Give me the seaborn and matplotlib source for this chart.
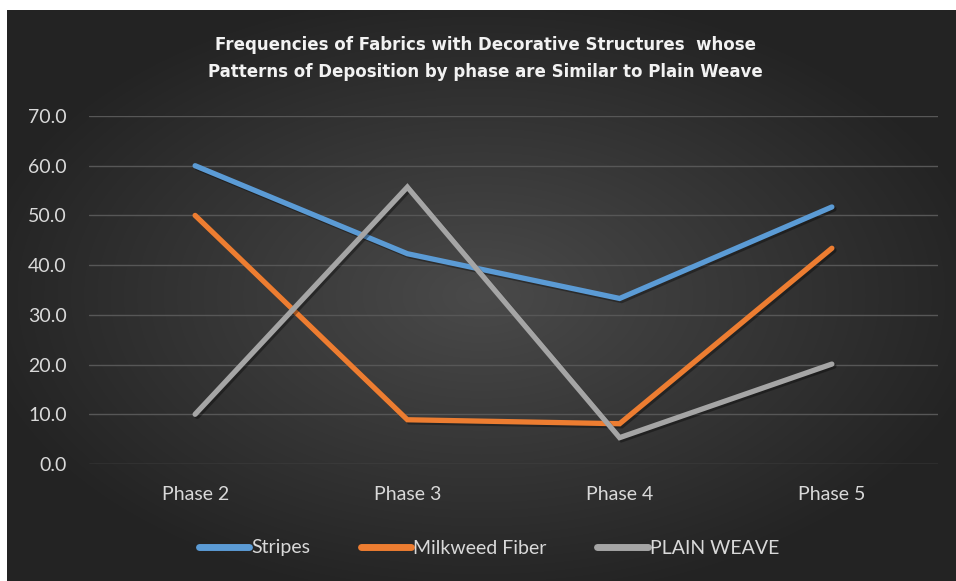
import numpy as np
import pandas as pd
import matplotlib
matplotlib.use("Agg")
import matplotlib.pyplot as plt
import matplotlib.patheffects as pe
import seaborn as sns

# data
phases = ["Phase 2", "Phase 3", "Phase 4", "Phase 5"]
stripes = [60.0, 42.3, 33.3, 51.7]
milkweed = [50.0, 8.9, 8.1, 43.4]
plain_weave = [10.0, 55.7, 5.3, 20.1]
series_names = ["Stripes", "Milkweed Fiber", "PLAIN WEAVE"]
colors = ["#5B9BD5", "#ED7D31", "#A5A5A5"]

df = pd.DataFrame({"phase": phases * 3,
                   "value": stripes + milkweed + plain_weave,
                   "series": np.repeat(series_names, len(phases))})

sns.set_theme(style="dark")
plt.rcParams["font.family"] = ["Lato", "DejaVu Sans"]

fig = plt.figure(figsize=(9.56, 5.81), dpi=100, facecolor="white")

# dark radial gradient panel behind everything
bg = fig.add_axes([7 / 956, 0, 949 / 956, 571 / 581], zorder=-5)
yy, xx = np.mgrid[-1:1:300j, -1:1:500j]
r = np.sqrt(xx ** 2 + yy ** 2)
grad = np.clip(0.29 - 0.14 * r, 0.14, 0.30)
bg.imshow(np.dstack([grad] * 3), aspect="auto", extent=[0, 1, 0, 1], interpolation="bicubic")
bg.set_axis_off()

ax = fig.add_axes([89 / 956, 117 / 581, 849 / 956, 348 / 581])
ax.patch.set_alpha(0)

sns.lineplot(data=df, x="phase", y="value", hue="series", palette=colors,
             linewidth=3.8, ax=ax, sort=False, legend=False)
for line in ax.lines:
    line.set_solid_capstyle("round")
    line.set_solid_joinstyle("miter")
    line.set_path_effects([pe.SimpleLineShadow(offset=(1.5, -1.5), alpha=0.35, shadow_color="black"),
                           pe.Normal()])

ax.set_xlim(-0.5, 3.5)
ax.set_ylim(0, 70)
ax.set_yticks(np.arange(0, 71, 10))
ax.set_yticklabels([f"{v:.1f}" for v in np.arange(0, 71, 10)])
ax.grid(axis="y", color="#575757", linewidth=1.0)
ax.grid(axis="x", visible=False)
ax.set_axisbelow(True)
for s in ax.spines.values():
    s.set_visible(False)
ax.tick_params(axis="y", colors="#d9d9d9", labelsize=14, pad=16, length=0)
ax.tick_params(axis="x", colors="#d9d9d9", labelsize=14, pad=16, length=0)
ax.set_xlabel("")
ax.set_ylabel("")

# title is letter-spaced in the original, a wider face gets closer
title_font = dict(ha="center", va="center", color="#f2f2f2", fontsize=12,
                  fontweight="bold", family="DejaVu Sans")
fig.text(485 / 956, 1 - 45 / 581, "Frequencies of Fabrics with Decorative Structures  whose", **title_font)
fig.text(485 / 956, 1 - 72 / 581, "Patterns of Deposition by phase are Similar to Plain Weave", **title_font)

handles = [plt.Line2D([], [], color=c, linewidth=5, solid_capstyle="round") for c in colors]
leg = fig.legend(handles, series_names, loc="center", bbox_to_anchor=(489 / 956, 1 - 548 / 581),
                 ncol=3, frameon=False, fontsize=14, handlelength=2.6, handletextpad=0.1,
                 columnspacing=2.6)
for t in leg.get_texts():
    t.set_color("#d9d9d9")

fig.savefig("out.png", dpi=100, facecolor="white")
